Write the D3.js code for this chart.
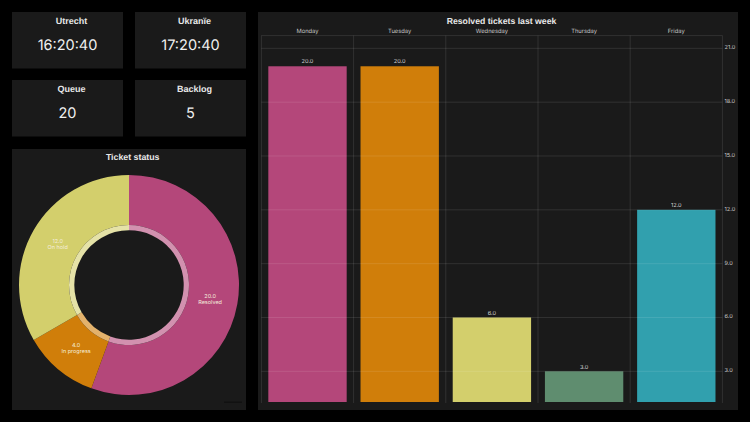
<!DOCTYPE html>
<html>
<head>
<meta charset="utf-8">
<script src="https://cdn.jsdelivr.net/npm/d3@7"></script>
<style>
  html, body { margin: 0; padding: 0; background: #000; }
  svg { display: block; font-family: Inter, "Liberation Sans", sans-serif; text-rendering: geometricPrecision; }
</style>
</head>
<body>
<svg id="chart" width="750" height="422"></svg>
<script>
const statNames = ['Utrecht', 'Ukranïe', 'Queue', 'Backlog'];
const statValues = ['16:20:40', '17:20:40', '20', '5'];

const days = ['Monday', 'Tuesday', 'Wednesday', 'Thursday', 'Friday'];
const resolved = [20, 20, 6, 3, 12];
const dayColors = ['#b4477a', '#d07e0a', '#d3cf6c', '#5f8d6f', '#31a0ae'];
const yTicks = [3, 6, 9, 12, 15, 18, 21];

const statusNames = ['Resolved', 'In progress', 'On hold'];
const statusValues = [20, 4, 12];
const statusColors = ['#b4477a', '#d07e0a', '#d3cf6c'];

const panelFill = '#1a1a1a';
const svg = d3.select('#chart');
svg.append('rect').attr('width', 750).attr('height', 422).attr('fill', '#000');

function panel(x, y, w, h) {
  svg.append('rect').attr('x', x).attr('y', y).attr('width', w).attr('height', h).attr('fill', panelFill);
}

function title(text, cx, cy, size) {
  svg.append('text').attr('x', cx).attr('y', cy).attr('text-anchor', 'middle')
    .attr('dominant-baseline', 'central').attr('fill', '#e8e8e8')
    .attr('font-family', '"Liberation Sans", sans-serif')
    .attr('font-size', size).attr('font-weight', 700).text(text);
}

// stat tiles
const tiles = [[12, 12], [135, 12], [12, 80], [135, 80]];
tiles.forEach(([x, y], i) => {
  panel(x, y, 111, 56.5);
  title(statNames[i], x + 59.5, y + 8.5, 9);
  svg.append('text').attr('x', x + 55.5).attr('y', y + 33).attr('text-anchor', 'middle')
    .attr('dominant-baseline', 'central').attr('fill', '#f0f0f0')
    .attr('font-size', 14.5).text(statValues[i]);
});

// donut
panel(12, 149, 234, 261);
title('Ticket status', 132.7, 157, 8.8);

const donut = svg.append('g').attr('transform', 'translate(129,285)');
const pie = d3.pie().sort(null).value((d) => d.value);
const slices = pie(statusNames.map((name, i) => ({ name, value: statusValues[i], color: statusColors[i] })));
const arcOuter = d3.arc().innerRadius(60).outerRadius(110);
const arcRing = d3.arc().innerRadius(54.7).outerRadius(60);
const arcLabel = d3.arc().innerRadius(54.7).outerRadius(110);

donut.selectAll('path.slice').data(slices).join('path').attr('class', 'slice')
  .attr('d', arcOuter).attr('fill', (d) => d.data.color);
donut.selectAll('path.ring').data(slices).join('path').attr('class', 'ring')
  .attr('d', arcRing).attr('fill', (d) => d3.interpolateRgb(d.data.color, '#fff')(0.4));

const sliceLabels = donut.selectAll('text').data(slices).join('text')
  .attr('transform', (d) => `translate(${arcLabel.centroid(d)})`)
  .attr('text-anchor', 'middle').attr('fill', '#f5eedd').attr('font-size', 5.5);
sliceLabels.append('tspan').attr('x', 0).attr('y', -1).text((d) => d.data.value.toFixed(1));
sliceLabels.append('tspan').attr('x', 0).attr('y', 5.2).text((d) => d.data.name);

// faint credit smudge, too dark to read in the reference
svg.append('rect').attr('x', 224).attr('y', 401.5).attr('width', 18).attr('height', 1.5).attr('fill', '#111');

// bars
panel(258, 12, 480, 398);
title('Resolved tickets last week', 501.5, 20.5, 8.7);

const plot = { left: 261.4, right: 722.4, top: 35.6, bottom: 402 };
const x = d3.scaleBand().domain(days).range([plot.left, plot.right]).paddingInner(0.15).paddingOuter(0.075);
const y = d3.scaleLinear().domain([1.29, 21.71]).range([plot.bottom, plot.top]);
const step = x.step();
const edges = d3.range(days.length + 1).map((i) => plot.left + i * step);

const gridColor = 'rgba(255,255,255,0.15)';
svg.append('g').selectAll('line').data(edges).join('line')
  .attr('x1', (d) => d).attr('x2', (d) => d)
  .attr('y1', plot.top).attr('y2', plot.bottom + 1)
  .attr('stroke', gridColor).attr('stroke-width', 0.7);
svg.append('line').attr('x1', plot.left).attr('x2', plot.right)
  .attr('y1', plot.top).attr('y2', plot.top)
  .attr('stroke', gridColor).attr('stroke-width', 0.7);

svg.append('g').selectAll('rect').data(days).join('rect')
  .attr('x', (d) => x(d)).attr('width', x.bandwidth())
  .attr('y', (d, i) => y(resolved[i]))
  .attr('height', (d, i) => plot.bottom - y(resolved[i]))
  .attr('fill', (d, i) => dayColors[i]);

svg.append('g').selectAll('line').data(yTicks).join('line')
  .attr('x1', plot.left).attr('x2', plot.right)
  .attr('y1', (d) => y(d)).attr('y2', (d) => y(d))
  .attr('stroke', gridColor).attr('stroke-width', 0.7);

svg.append('g').selectAll('text').data(yTicks).join('text')
  .attr('x', 724.5).attr('y', (d) => y(d)).attr('dominant-baseline', 'central')
  .attr('fill', '#c8c8c8').attr('font-size', 5.6).text((d) => d.toFixed(1));

svg.append('g').selectAll('text').data(days).join('text')
  .attr('x', (d) => x(d) + x.bandwidth() / 2).attr('y', 33).attr('text-anchor', 'middle')
  .attr('fill', '#c8c8c8').attr('font-size', 5.8).text((d) => d);

svg.append('g').selectAll('text').data(days).join('text')
  .attr('x', (d) => x(d) + x.bandwidth() / 2).attr('y', (d, i) => y(resolved[i]) - 2.8)
  .attr('text-anchor', 'middle').attr('fill', '#d4d4d4').attr('font-size', 5.6)
  .text((d, i) => resolved[i].toFixed(1));
</script>
</body>
</html>
